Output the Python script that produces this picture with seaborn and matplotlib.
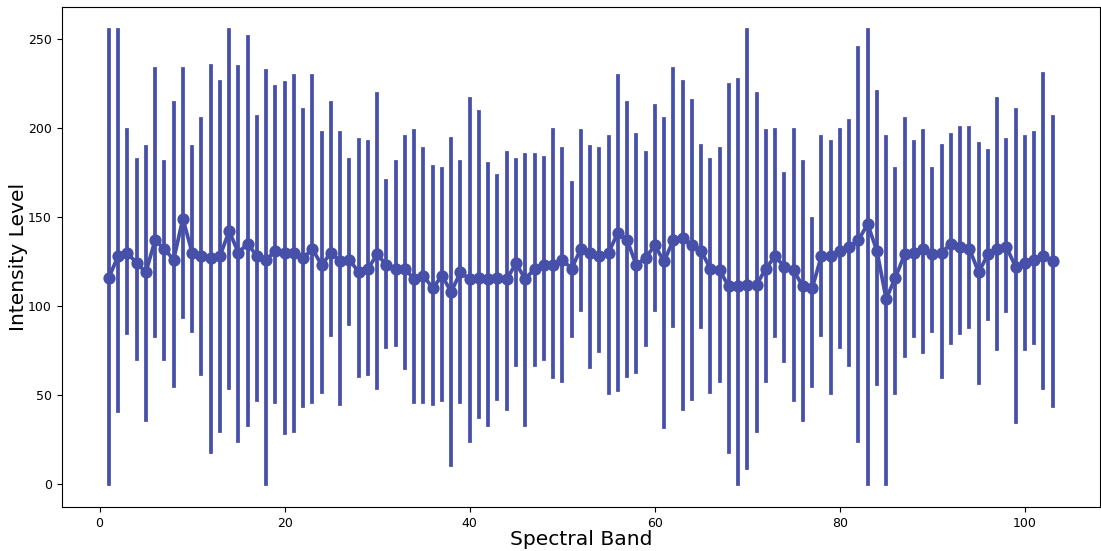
import numpy as np
import pandas as pd
import matplotlib
matplotlib.use("Agg")
import matplotlib.pyplot as plt
import seaborn as sns

bands = list(range(1, 104))
means = [116, 128, 130, 124, 119, 137, 132, 126, 149, 130,
         128, 127, 128, 142, 130, 135, 128, 126, 131, 130,
         130, 127, 132, 123, 130, 125, 126, 119, 121, 129,
         123, 121, 121, 115, 117, 110, 117, 108, 119, 115,
         116, 115, 116, 115, 124, 115, 121, 123, 123, 126,
         121, 132, 130, 128, 130, 141, 137, 123, 127, 134,
         125, 137, 138, 134, 131, 121, 120, 111, 111, 112,
         112, 121, 128, 122, 120, 111, 110, 128, 128, 131,
         133, 137, 146, 131, 104, 116, 129, 130, 132, 129,
         130, 135, 133, 132, 119, 129, 132, 133, 122, 124,
         126, 128, 125]
upper = [255, 255, 199, 182, 189, 233, 181, 214, 233, 189,
         205, 235, 226, 255, 234, 251, 206, 232, 223, 225,
         229, 210, 229, 197, 214, 197, 182, 193, 192, 219,
         170, 181, 195, 198, 188, 178, 177, 194, 181, 216,
         209, 180, 173, 186, 182, 185, 185, 183, 199, 188,
         169, 198, 189, 188, 195, 229, 214, 196, 186, 212,
         205, 233, 226, 215, 190, 182, 188, 224, 227, 255,
         219, 198, 199, 174, 199, 181, 149, 195, 192, 199,
         204, 245, 255, 220, 195, 177, 205, 192, 198, 177,
         190, 196, 200, 200, 191, 187, 216, 193, 210, 195,
         197, 230, 206]
lower = [0, 41, 85, 70, 36, 83, 70, 55, 94, 86,
         62, 18, 30, 54, 24, 33, 47, 0, 46, 29,
         30, 44, 46, 52, 84, 45, 90, 61, 62, 54,
         77, 78, 65, 46, 46, 45, 47, 11, 46, 24,
         38, 33, 48, 42, 67, 33, 67, 70, 60, 58,
         83, 98, 66, 75, 51, 53, 61, 63, 78, 98,
         32, 89, 42, 48, 88, 52, 58, 18, 0, 9,
         30, 58, 83, 69, 47, 36, 55, 84, 51, 77,
         67, 24, 0, 56, 0, 51, 72, 83, 74, 86,
         60, 79, 85, 88, 57, 93, 76, 97, 35, 76,
         79, 54, 44]

df = pd.DataFrame({
    "band": bands * 3,
    "value": lower + means + upper,
})

fig, ax = plt.subplots(figsize=(11.01, 5.51), dpi=100)
fig.subplots_adjust(left=0.056, right=0.999, top=0.987, bottom=0.080)

sns.pointplot(data=df, x="band", y="value", native_scale=True,
              estimator="median",
              errorbar=lambda v: (v.min(), v.max()),
              color="#4650a8", ax=ax)

ax.set_xlabel("Spectral Band", fontsize=14.6, labelpad=0)
ax.set_ylabel("Intensity Level", fontsize=14.6, labelpad=0)
ax.tick_params(labelsize=9)
ax.set_xticks([0, 20, 40, 60, 80, 100])
ax.set_yticks([0, 50, 100, 150, 200, 250])
ax.set_xlim(-4.1, 108.1)
ax.set_ylim(-12.75, 267.75)

fig.savefig("out.png", dpi=100)
